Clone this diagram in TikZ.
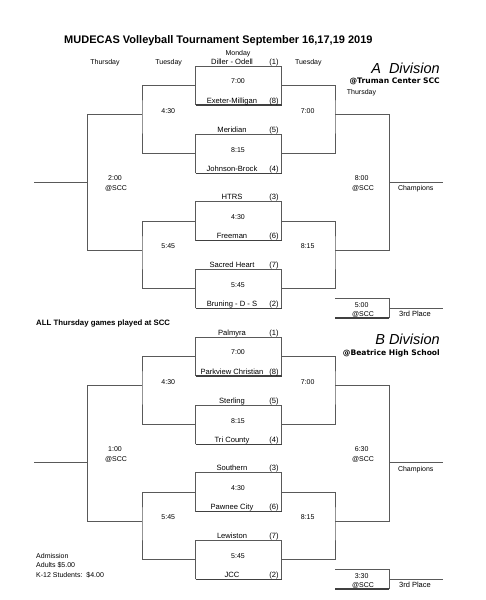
\documentclass[tikz,border=0pt]{standalone}
\usepackage{fontspec}
\setmainfont{Liberation Sans}
\newfontfamily\widebold{DejaVu Sans}
\usetikzlibrary{calc}

\tikzset{
	bline/.style={draw=black!65,line width=0.75pt},
	heavy/.style={draw=black!75,line width=1.1pt},
	lab/.style={inner sep=0pt,text height=5pt,text depth=0pt,font=\fontsize{7}{8}\selectfont},
	team/.style={lab,font=\fontsize{7.6}{8}\selectfont},
}

% one game: name, top, team 1, seed 1, time, team 2, seed 2
\newcommand\game[7]{%
	\path
	(195.7,#2) coordinate (#1nw)
	(281.7,#2) coordinate (#1ne)
	(195.7,{#2+39}) coordinate (#1sw)
	(281.7,{#2+39}) coordinate (#1se)
	(195.7,{#2+19.5}) coordinate (#1w)
	(281.7,{#2+19.5}) coordinate (#1e);
	\draw[bline] (#1sw) -- (#1nw) -- (#1ne) -- (#1se);
	\draw[heavy] (#1sw) -- (#1se);
	\node[team] (#1ta) at (232,{#2-4.3}) {#3};
	\node[team] (#1sa) at (274,{#2-4.3}) {(#4)};
	\node[lab] (#1ti) at (238,{#2+15.4}) {#5};
	\node[team] (#1tb) at (232,{#2+34.7}) {#6};
	\node[team] (#1sb) at (274,{#2+34.7}) {(#7)};
}

\begin{document}
\begin{tikzpicture}[x=1pt,y=-1pt]
	\useasboundingbox (0,0) rectangle (485,600);
	\node[inner sep=0pt,font=\bfseries\fontsize{11}{12}\selectfont] (title) at (218.4,41) {MUDECAS Volleyball Tournament September 16,17,19 2019};
	\node[lab] (mon) at (238,52.7) {Monday};
	\node[lab] (thu) at (105,62) {Thursday};
	\node[lab] (tue1) at (168.7,62) {Tuesday};
	\node[lab] (tue2) at (308.3,62) {Tuesday};

	% A division
	\game{Ag1}{66}{Diller - Odell}{1}{7:00}{Exeter-Milligan}{8}
	\game{Ag2}{134.3}{Meridian}{5}{8:15}{Johnson-Brock}{4}
	\game{Ag3}{201.7}{HTRS}{3}{4:30}{Freeman}{6}
	\game{Ag4}{269.3}{Sacred Heart}{7}{5:45}{Bruning - D - S}{2}
	\node[anchor=base east,inner sep=0pt,font=\itshape\fontsize{14.5}{16}\selectfont] (adiv) at (440,73.5) {A\ \ Division};
	\node[anchor=base east,inner sep=0pt,font=\widebold\bfseries\fontsize{7.6}{9}\selectfont] (aloc) at (440,83.7) {@Truman Center SCC};
	\node[lab,anchor=west] (athu) at (346.7,91.7) {Thursday};
	\node[anchor=base west,inner sep=0pt,font=\bfseries\fontsize{7.8}{9}\selectfont] (note) at (36,325.8) {ALL Thursday games played at SCC};

	% B division
	\begin{scope}[yshift=-271pt]
	\game{Bg1}{66}{Palmyra}{1}{7:00}{Parkview Christian}{8}
	\game{Bg2}{134.3}{Sterling}{5}{8:15}{Tri County}{4}
	\game{Bg3}{201.7}{Southern}{3}{4:30}{Pawnee City}{6}
	\game{Bg4}{269.3}{Lewiston}{7}{5:45}{JCC}{2}
	\node[anchor=base east,inner sep=0pt,font=\itshape\fontsize{14.5}{16}\selectfont] (bdiv) at (440,73.5) {B Division};
	\node[anchor=base east,inner sep=0pt,font=\widebold\bfseries\fontsize{7.6}{9}\selectfont] (bloc) at (440,84.4) {@Beatrice High School};
	\end{scope}

	\foreach \dv/\off/\cy/\tl/\tr/\tt in {A/0/182.3/2:00/8:00/5:00,B/271/191.7/1:00/6:30/3:30}{
	\begin{scope}[yshift=-\off pt]
	\path
	(142,114.3) coordinate (\dv lt)
	(142,250.7) coordinate (\dv lb)
	(87.7,114.3) coordinate (\dv ot)
	(87.7,\cy) coordinate (\dv oc)
	(34,\cy) coordinate (\dv oe)
	(335,114.3) coordinate (\dv rt)
	(335,250.7) coordinate (\dv rb)
	(389.3,114.3) coordinate (\dv pt)
	(389.3,\cy) coordinate (\dv pc)
	(443.3,\cy) coordinate (\dv pe)
	(335,298.3) coordinate (\dv q1)
	(389.3,298.3) coordinate (\dv q2)
	(389.3,318) coordinate (\dv q3)
	(335,318) coordinate (\dv q4)
	(389.3,308.3) coordinate (\dv q5)
	(443.3,308.3) coordinate (\dv q6);
	% left half
	\draw[bline] (\dv g1w) -| (\dv lt) |- (\dv g2w);
	\draw[bline] (\dv g3w) -| (\dv lb) |- (\dv g4w);
	\draw[bline] (\dv lt) -- (\dv ot) |- (\dv lb);
	\draw[bline] (\dv oc) -- (\dv oe);
	% right half
	\draw[bline] (\dv g1e) -| (\dv rt) |- (\dv g2e);
	\draw[bline] (\dv g3e) -| (\dv rb) |- (\dv g4e);
	\draw[bline] (\dv rt) -- (\dv pt) |- (\dv rb);
	\draw[bline] (\dv pc) -- (\dv pe);
	% 3rd place
	\draw[bline] (\dv q1) -- (\dv q2) -- (\dv q3);
	\draw[heavy] (\dv q4) -- (\dv q3);
	\draw[bline] (\dv q5) -- (\dv q6);
	\node[lab] (\dv l1) at (168.3,111) {4:30};
	\node[lab] (\dv l2) at (168.3,246.3) {5:45};
	\node[lab] (\dv r1) at (307.7,111) {7:00};
	\node[lab] (\dv r2) at (307.7,246.3) {8:15};
	\node[lab] (\dv s1) at (115,178.3) {\tl};
	\node[lab] (\dv s2) at (116,188.3) {@SCC};
	\node[lab] (\dv f1) at (361.7,178.3) {\tr};
	\node[lab] (\dv f2) at (363,188.3) {@SCC};
	\node[lab] (\dv ch) at (415.7,\cy+6) {Champions};
	\node[lab] (\dv t1) at (361.7,304.7) {\tt};
	\node[lab] (\dv t2) at (363,313.7) {@SCC};
	\node[lab,font=\fontsize{7.5}{8}\selectfont] (\dv tp) at (415,313.7) {3rd Place};
	\end{scope}
	}

	% admission
	\node[lab,anchor=west] (adm1) at (36,556) {Admission};
	\node[lab,anchor=west] (adm2) at (36,565) {Adults \$5.00};
	\node[lab,anchor=west] (adm3) at (36,575.3) {K-12 Students:\ \ \$4.00};
\end{tikzpicture}
\end{document}
